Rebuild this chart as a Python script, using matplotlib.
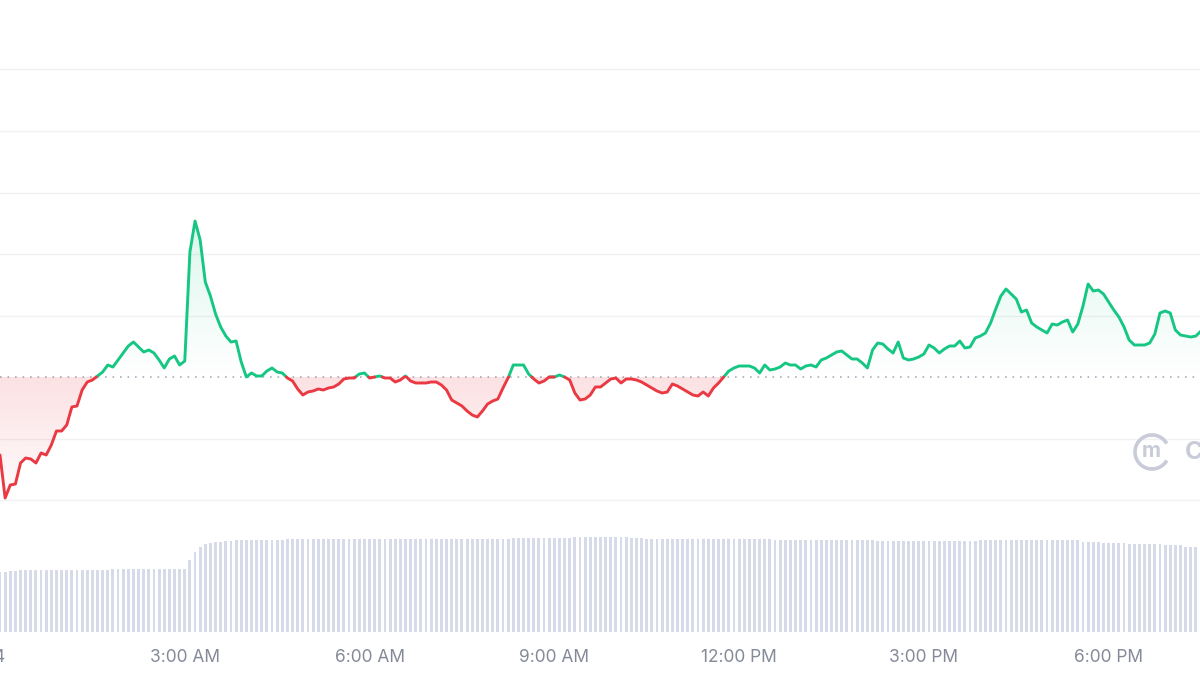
import numpy as np
import matplotlib
matplotlib.use("Agg")
import matplotlib.pyplot as plt
from matplotlib.path import Path
from matplotlib.patches import Arc

plt.rcParams['font.family'] = ['Inter', 'DejaVu Sans']

# 5-minute samples from midnight
open_price = 0.5000
price = [
    0.4922, 0.4879, 0.4892, 0.4893, 0.4914, 0.4919, 0.4918, 0.4914, 0.4924, 0.4922,
    0.4932, 0.4946, 0.4946, 0.4952, 0.4970, 0.4971, 0.4987, 0.4995, 0.4997, 0.5001,
    0.5005, 0.5012, 0.5010, 0.5017, 0.5024, 0.5031, 0.5035, 0.5030, 0.5025, 0.5027,
    0.5024, 0.5017, 0.5009, 0.5018, 0.5021, 0.5012, 0.5016, 0.5125, 0.5156, 0.5137,
    0.5095, 0.5081, 0.5063, 0.5050, 0.5041, 0.5035, 0.5036, 0.5015, 0.5000, 0.5004,
    0.5001, 0.5001, 0.5006, 0.5009, 0.5005, 0.5004, 0.4999, 0.4996, 0.4988, 0.4982,
    0.4985, 0.4986, 0.4988, 0.4987, 0.4989, 0.4990, 0.4993, 0.4998, 0.4999, 0.4999,
    0.5003, 0.5004, 0.4999, 0.5000, 0.5001, 0.4999, 0.4999, 0.4995, 0.4997, 0.5001,
    0.4996, 0.4994, 0.4994, 0.4994, 0.4995, 0.4995, 0.4992, 0.4987, 0.4977, 0.4974,
    0.4971, 0.4966, 0.4962, 0.4960, 0.4966, 0.4973, 0.4976, 0.4978, 0.4989, 0.4999,
    0.5012, 0.5012, 0.5012, 0.5003, 0.4998, 0.4994, 0.4996, 0.5000, 0.5000, 0.5002,
    0.5000, 0.4997, 0.4984, 0.4977, 0.4978, 0.4982, 0.4990, 0.4990, 0.4994, 0.4998,
    0.4999, 0.4994, 0.4998, 0.4998, 0.4997, 0.4995, 0.4992, 0.4989, 0.4986, 0.4984,
    0.4985, 0.4993, 0.4991, 0.4988, 0.4985, 0.4982, 0.4981, 0.4985, 0.4981, 0.4989,
    0.4994, 0.5000, 0.5006, 0.5009, 0.5011, 0.5011, 0.5011, 0.5009, 0.5004, 0.5012,
    0.5007, 0.5008, 0.5010, 0.5014, 0.5012, 0.5012, 0.5008, 0.5011, 0.5012, 0.5010,
    0.5017, 0.5019, 0.5022, 0.5025, 0.5026, 0.5022, 0.5018, 0.5018, 0.5014, 0.5009,
    0.5027, 0.5034, 0.5033, 0.5028, 0.5024, 0.5035, 0.5019, 0.5017, 0.5018, 0.5020,
    0.5023, 0.5032, 0.5029, 0.5024, 0.5028, 0.5031, 0.5031, 0.5036, 0.5029, 0.5030,
    0.5039, 0.5041, 0.5044, 0.5054, 0.5068, 0.5081, 0.5088, 0.5083, 0.5078, 0.5065,
    0.5067, 0.5054, 0.5050, 0.5047, 0.5044, 0.5053, 0.5052, 0.5055, 0.5057, 0.5045,
    0.5053, 0.5071, 0.5093, 0.5086, 0.5087, 0.5083, 0.5075, 0.5067, 0.5060, 0.5050,
    0.5037, 0.5032, 0.5032, 0.5032, 0.5034, 0.5043, 0.5064, 0.5066, 0.5064, 0.5047,
    0.5042, 0.5041, 0.5040, 0.5041, 0.5046,
]
# 24h volume (millions)
volume = [
    6.0, 6.0, 6.1, 6.1, 6.2, 6.2, 6.2, 6.2, 6.2, 6.2, 6.2, 6.2, 6.2, 6.2, 6.2, 6.2, 6.2, 6.2, 6.2, 6.2,
    6.2, 6.2, 6.3, 6.3, 6.3, 6.3, 6.3, 6.3, 6.3, 6.3, 6.3, 6.3, 6.3, 6.3, 6.3, 6.3, 6.3, 7.2, 8.0, 8.5,
    8.8, 8.9, 9.0, 9.0, 9.1, 9.1, 9.2, 9.2, 9.2, 9.2, 9.2, 9.2, 9.2, 9.2, 9.2, 9.2, 9.3, 9.3, 9.3, 9.3,
    9.3, 9.3, 9.3, 9.3, 9.3, 9.3, 9.3, 9.3, 9.3, 9.3, 9.3, 9.3, 9.3, 9.3, 9.3, 9.3, 9.3, 9.3, 9.3, 9.3,
    9.3, 9.3, 9.3, 9.3, 9.3, 9.3, 9.3, 9.3, 9.3, 9.3, 9.3, 9.3, 9.3, 9.3, 9.3, 9.3, 9.3, 9.3, 9.3, 9.3,
    9.4, 9.4, 9.4, 9.4, 9.4, 9.4, 9.4, 9.4, 9.4, 9.4, 9.4, 9.4, 9.5, 9.5, 9.5, 9.5, 9.5, 9.5, 9.5, 9.5,
    9.5, 9.5, 9.5, 9.4, 9.4, 9.4, 9.3, 9.3, 9.3, 9.3, 9.3, 9.3, 9.3, 9.3, 9.3, 9.3, 9.3, 9.3, 9.3, 9.3,
    9.3, 9.3, 9.3, 9.3, 9.3, 9.3, 9.3, 9.3, 9.3, 9.3, 9.3, 9.2, 9.2, 9.2, 9.2, 9.2, 9.2, 9.2, 9.2, 9.2,
    9.2, 9.2, 9.2, 9.2, 9.2, 9.2, 9.2, 9.2, 9.2, 9.2, 9.2, 9.1, 9.1, 9.1, 9.1, 9.1, 9.1, 9.1, 9.1, 9.1,
    9.1, 9.1, 9.1, 9.1, 9.1, 9.1, 9.1, 9.1, 9.1, 9.1, 9.1, 9.2, 9.2, 9.2, 9.2, 9.2, 9.2, 9.2, 9.2, 9.2,
    9.2, 9.2, 9.2, 9.2, 9.2, 9.2, 9.2, 9.2, 9.2, 9.2, 9.2, 9.0, 9.0, 9.0, 9.0, 8.9, 8.9, 8.9, 8.9, 8.9,
    8.8, 8.8, 8.8, 8.8, 8.8, 8.8, 8.8, 8.7, 8.7, 8.7, 8.7, 8.5, 8.5, 8.5, 8.5,
]
tick_minutes = [0, 180, 360, 540, 720, 900, 1080]
tick_labels = ["4", "3:00 AM", "6:00 AM", "9:00 AM", "12:00 PM", "3:00 PM", "6:00 PM"]

green = "#16c784"
red = "#ea3943"
price = np.array(price)
minutes = np.arange(len(price)) * 5

fig = plt.figure(figsize=(12, 6.75), dpi=100)
pos = [0, 43 / 675, 1, 632 / 675]

# volume underneath
axv = fig.add_axes(pos)
axv.bar(minutes, volume, width=2.8, color="#d7dbe9", linewidth=0)
axv.set_ylim(0, 63.2)
axv.axis("off")

ax = fig.add_axes(pos, sharex=axv)
ax.patch.set_alpha(0)

# grid lines
step = 0.00615
for k in [-2, -1, 1, 2, 3, 4, 5]:
    ax.axhline(open_price + k * step, color="#f0f1f3", lw=1, zorder=0)
ax.axhline(open_price, color="#a9aebb", lw=1.2, ls=(0, (1, 3.5)), zorder=1)


# insert crossing points so the line can change colour at the open price
def split_at_open(t, p, base):
    ts, ps = [t[0]], [p[0]]
    for k in range(1, len(t)):
        a, b = p[k - 1] - base, p[k] - base
        if a * b < 0:
            f = a / (a - b)
            ts.append(t[k - 1] + f * (t[k] - t[k - 1]))
            ps.append(base)
        ts.append(t[k])
        ps.append(p[k])
    return np.array(ts), np.array(ps)


ts, ps = split_at_open(minutes, price, open_price)

# gradient fills clipped to the area between line and open price
def gradient_fill(mask, color, y0, y1, a0, a1):
    coll = ax.fill_between(ts, ps, open_price, where=mask, interpolate=True,
                           facecolor="none", edgecolor="none")
    paths = coll.get_paths()
    if not paths:
        return
    clip = Path.make_compound_path(*paths)
    rgb = matplotlib.colors.to_rgb(color)
    grad = np.zeros((256, 1, 4))
    grad[:, 0, :3] = rgb
    grad[:, 0, 3] = np.linspace(a1, a0, 256)
    im = ax.imshow(grad, extent=[ts[0], ts[-1], y0, y1], aspect="auto",
                   origin="upper", zorder=2, interpolation="bilinear")
    im.set_clip_path(clip, transform=ax.transData)


gradient_fill(ps >= open_price, green, open_price, ps.max(), 0.0, 0.15)
gradient_fill(ps <= open_price, red, ps.min(), open_price, 0.02, 0.15)
ax.set_xlim(1.46, 1169)
ax.set_ylim(0.4745, 0.5377)

up = np.where(ps >= open_price, ps, np.nan)
down = np.where(ps <= open_price, ps, np.nan)
ax.plot(ts, up, color=green, lw=2.1, solid_joinstyle="round", solid_capstyle="round", zorder=4)
ax.plot(ts, down, color=red, lw=2.1, solid_joinstyle="round", solid_capstyle="round", zorder=4)

ax.set_xticks(tick_minutes)
ax.set_xticklabels(tick_labels)
ax.tick_params(axis="x", length=0, pad=12, labelsize=12.5, labelcolor="#858a99")
ax.tick_params(axis="y", left=False, labelleft=False)
for s in ax.spines.values():
    s.set_visible(False)

# watermark
axw = fig.add_axes([0, 0, 1, 1])
axw.set_xlim(0, 1200)
axw.set_ylim(675, 0)
axw.axis("off")
axw.add_patch(Arc((1152, 452), 34, 34, theta1=30, theta2=330, color="#c8ccd8", lw=2.6))
axw.text(1151, 451, "m", fontsize=15, color="#c8ccd8", ha="center", va="center", fontweight="bold")
axw.text(1185, 452, "CoinMarketCap", fontsize=18, color="#c8ccd8", ha="left", va="center",
         fontweight="bold")

fig.savefig("out.png", dpi=100)
